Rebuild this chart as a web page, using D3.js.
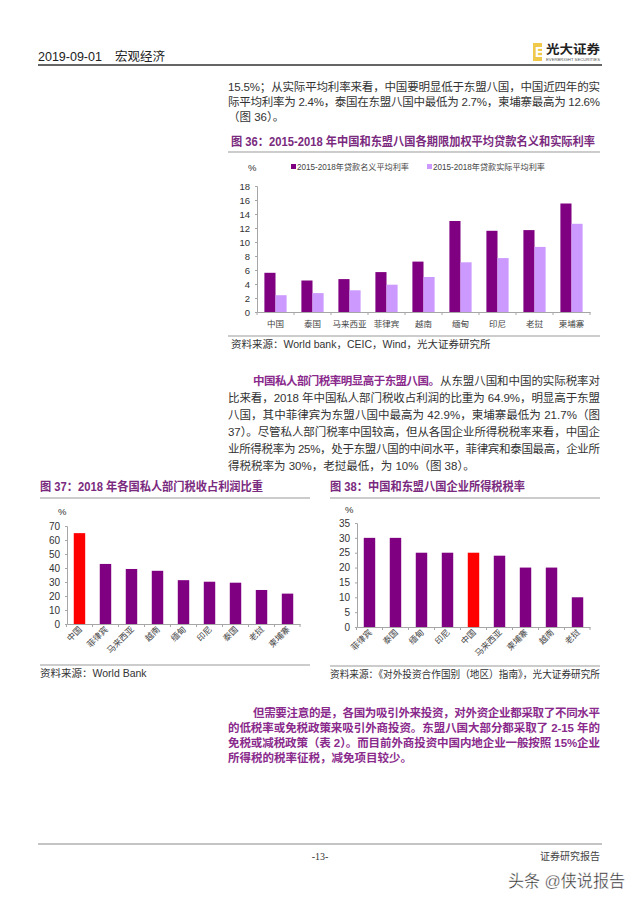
<!DOCTYPE html>
<html><head><meta charset="utf-8">
<script src="https://cdn.jsdelivr.net/npm/d3@7/dist/d3.min.js"></script>
<style>body{margin:0;background:#fff}svg{display:block}</style>
</head><body>
<svg id="page" width="640" height="905"></svg>
<script>
// ---------- DATA ----------
const cats36 = ["中国","泰国","马来西亚","菲律宾","越南","缅甸","印尼","老挝","柬埔寨"];
const nominal36 = [5.6, 4.5, 4.7, 5.7, 7.2, 13.0, 11.6, 11.7, 15.5];
const real36 = [2.4, 2.7, 3.1, 3.9, 5.0, 7.1, 7.7, 9.3, 12.6];
const series36 = ["2015-2018年贷款名义平均利率","2015-2018年贷款实际平均利率"];
const ticks36 = [0,2,4,6,8,10,12,14,16,18];

const cats37 = ["中国","菲律宾","马来西亚","越南","缅甸","印尼","泰国","老挝","柬埔寨"];
const vals37 = [64.9, 42.9, 39.3, 38.0, 31.3, 30.2, 29.5, 24.3, 21.7];
const ticks37 = [0,10,20,30,40,50,60,70];

const cats38 = ["菲律宾","泰国","缅甸","印尼","中国","马来西亚","柬埔寨","越南","老挝"];
const vals38 = [30, 30, 25, 25, 25, 24, 20, 20, 10];
const ticks38 = [0,5,10,15,20,25,30,35];

const highlight = "中国";

// ---------- STYLE ----------
const FONT = "'Liberation Sans','Noto Sans CJK SC',sans-serif";
const DARK = "#7f0080", LIGHT = "#cc99ff", RED = "#ff0000";
const TITLE_C = "#7a2a7e", PARA_B = "#8a2a8c", TEXT_C = "#333";
const AXIS_C = "#a6a6a6";

const svg = d3.select("#page");
svg.append("rect").attr("width",640).attr("height",905).attr("fill","#fff");

function txt(x, y, s, o = {}) {
  const t = svg.append("text").attr("x", x).attr("y", y).text(s)
    .attr("font-family", o.family || FONT)
    .attr("font-size", o.size || 12)
    .attr("fill", o.fill || TEXT_C)
    .attr("dominant-baseline", "central");
  if (o.weight) t.attr("font-weight", o.weight);
  if (o.anchor) t.attr("text-anchor", o.anchor);
  if (o.len) t.attr("textLength", o.len).attr("lengthAdjust", "spacingAndGlyphs");
  if (o.lenS) t.attr("textLength", o.lenS).attr("lengthAdjust", "spacing");
  return t;
}
function hline(x1, x2, y, c, w) {
  svg.append("line").attr("x1",x1).attr("x2",x2).attr("y1",y).attr("y2",y)
    .attr("stroke", c).attr("stroke-width", w);
}

// ---------- HEADER ----------
txt(38, 57, "2019-09-01", {size: 12.5, fill: "#222"});
txt(115, 57, "宏观经济", {size: 12.5, fill: "#222"});
hline(38, 602, 65, "#666", 2);
svg.append("rect").attr("x",533).attr("y",43).attr("width",9).attr("height",18).attr("fill","#f0c84a");
txt(535, 52, "E", {size: 14, fill: "#fff", weight: "bold"});
txt(546, 50, "光大证券", {size: 12.5, fill: "#222", weight: "bold", len: 54});
txt(546, 59.5, "EVERBRIGHT SECURITIES", {size: 3.5, fill: "#555", len: 54});

// ---------- PARAGRAPH 1 ----------
const PL = 228, PR = 600;
const p1y = [87, 102, 117];
txt(PL, p1y[0], "15.5%；从实际平均利率来看，中国要明显低于东盟八国，中国近四年的实", {size: 11.5, lenS: PR-PL});
txt(PL, p1y[1], "际平均利率为 2.4%，泰国在东盟八国中最低为 2.7%，柬埔寨最高为 12.6%", {size: 11.5, lenS: PR-PL});
txt(PL, p1y[2], "（图 36）。", {size: 11.5});

// ---------- CHART 36 ----------
txt(231, 142, "图 36：2015-2018 年中国和东盟八国各期限加权平均贷款名义和实际利率", {size: 12, weight: "bold", fill: TITLE_C, len: 364});
hline(228, 600, 152, "#999", 1);
{
  const x = d3.scaleBand().domain(cats36).range([257, 590]).paddingInner(0.4).paddingOuter(0.2);
  const xs = d3.scaleBand().domain([0,1]).range([0, x.bandwidth()]);
  const y = d3.scaleLinear().domain([0, 18]).range([312, 186]);
  const g = svg.append("g");
  g.selectAll(".n").data(nominal36).join("rect")
    .attr("x", (d,i) => x(cats36[i]) + xs(0)).attr("width", xs.bandwidth())
    .attr("y", d => y(d)).attr("height", d => y(0) - y(d)).attr("fill", DARK);
  g.selectAll(".r").data(real36).join("rect")
    .attr("x", (d,i) => x(cats36[i]) + xs(1)).attr("width", xs.bandwidth())
    .attr("y", d => y(d)).attr("height", d => y(0) - y(d)).attr("fill", LIGHT);
  const ya = svg.append("g").attr("transform", "translate(257,0)")
    .call(d3.axisLeft(y).tickValues(ticks36).tickSize(2).tickPadding(5));
  ya.select(".domain").attr("stroke", AXIS_C);
  ya.selectAll(".tick line").attr("stroke", AXIS_C);
  ya.selectAll("text").attr("font-family", FONT).attr("font-size", 9.5).attr("fill", TEXT_C);
  const xa = svg.append("g").attr("transform", "translate(0,312)")
    .call(d3.axisBottom(x).tickSize(0).tickPadding(9));
  xa.select(".domain").attr("stroke", AXIS_C);
  xa.selectAll("text").attr("font-family", FONT).attr("font-size", 8.5).attr("fill", "#444");
  cats36.forEach((c, i) => {
    const bx = x(c) - x.step() * x.paddingInner() / 2;
    svg.append("line").attr("x1", bx).attr("x2", bx).attr("y1", 312).attr("y2", 315).attr("stroke", AXIS_C);
  });
  svg.append("line").attr("x1", 590).attr("x2", 590).attr("y1", 312).attr("y2", 315).attr("stroke", AXIS_C);
  txt(248, 167, "%", {size: 9.5});
  const lx = [291, 427], lw = [112, 112];
  series36.forEach((s, i) => {
    svg.append("rect").attr("x", lx[i]).attr("y", 164).attr("width", 5).attr("height", 5).attr("fill", i ? LIGHT : DARK);
    txt(lx[i] + 6, 167, s, {size: 8.5, fill: "#444", len: lw[i]});
  });
}
hline(228, 600, 336, "#999", 1);
txt(231, 344, "资料来源：World bank，CEIC，Wind，光大证券研究所", {size: 10.5, fill: "#333"});

// ---------- PARAGRAPH 2 ----------
const p2y = [381, 398, 415, 432, 449, 466];
txt(253, p2y[0], "中国私人部门税率明显高于东盟八国。", {size: 11.5, weight: "bold", fill: PARA_B, lenS: 187});
txt(440, p2y[0], "从东盟八国和中国的实际税率对", {size: 11.5, lenS: PR-440});
txt(PL, p2y[1], "比来看，2018 年中国私人部门税收占利润的比重为 64.9%，明显高于东盟", {size: 11.5, lenS: PR-PL});
txt(PL, p2y[2], "八国，其中菲律宾为东盟八国中最高为 42.9%，柬埔寨最低为 21.7%（图", {size: 11.5, lenS: PR-PL});
txt(PL, p2y[3], "37）。尽管私人部门税率中国较高，但从各国企业所得税税率来看，中国企", {size: 11.5, lenS: PR-PL});
txt(PL, p2y[4], "业所得税率为 25%，处于东盟八国的中间水平，菲律宾和泰国最高，企业所", {size: 11.5, lenS: PR-PL});
txt(PL, p2y[5], "得税税率为 30%，老挝最低，为 10%（图 38）。", {size: 11.5});

// ---------- SINGLE-SERIES CHART HELPER ----------
function singleChart(cats, vals, ticks, maxV, x0, x1, y0, y1, labelSize) {
  const x = d3.scaleBand().domain(cats).range([x0, x1]).paddingInner(0.56).paddingOuter(0.26);
  const y = d3.scaleLinear().domain([0, maxV]).range([y0, y1]);
  svg.append("g").selectAll("rect").data(vals).join("rect")
    .attr("x", (d,i) => x(cats[i])).attr("width", x.bandwidth())
    .attr("y", d => y(d)).attr("height", d => y(0) - y(d))
    .attr("fill", (d,i) => cats[i] === highlight ? RED : DARK);
  const ya = svg.append("g").attr("transform", `translate(${x0},0)`)
    .call(d3.axisLeft(y).tickValues(ticks).tickSize(2).tickPadding(5));
  ya.select(".domain").attr("stroke", AXIS_C);
  ya.selectAll(".tick line").attr("stroke", AXIS_C);
  ya.selectAll("text").attr("font-family", FONT).attr("font-size", 10).attr("fill", TEXT_C);
  const xa = svg.append("g").attr("transform", `translate(0,${y0})`)
    .call(d3.axisBottom(x).tickSize(0).tickPadding(0));
  xa.select(".domain").attr("stroke", AXIS_C);
  xa.selectAll("text").attr("font-family", FONT).attr("font-size", labelSize).attr("fill", "#444")
    .attr("text-anchor", "end").attr("dy", 0)
    .attr("transform", "translate(3,6) rotate(-45)");
  cats.forEach(c => {
    const bx = x(c) - x.step() * x.paddingInner() / 2;
    svg.append("line").attr("x1", bx).attr("x2", bx).attr("y1", y0).attr("y2", y0 + 3).attr("stroke", AXIS_C);
  });
  svg.append("line").attr("x1", x1).attr("x2", x1).attr("y1", y0).attr("y2", y0 + 3).attr("stroke", AXIS_C);
}

// ---------- CHART 37 ----------
txt(40, 487, "图 37：2018 年各国私人部门税收占利润比重", {size: 12, weight: "bold", fill: TITLE_C, len: 223});
hline(40, 310, 498, "#999", 1);
txt(58, 511, "%", {size: 9.5});
singleChart(cats37, vals37, ticks37, 70, 67, 300, 624, 526, 8.5);
hline(40, 310, 665, "#999", 1);
txt(40, 673, "资料来源：World Bank", {size: 10.5, fill: "#333"});

// ---------- CHART 38 ----------
txt(330, 487, "图 38：中国和东盟八国企业所得税税率", {size: 12, weight: "bold", fill: TITLE_C, len: 195});
hline(330, 600, 498, "#999", 1);
txt(345, 509, "%", {size: 9.5});
singleChart(cats38, vals38, ticks38, 35, 357, 590, 627, 523, 8.5);
hline(330, 600, 666, "#999", 1);
txt(330, 674, "资料来源：《对外投资合作国别（地区）指南》，光大证券研究所", {size: 10.5, fill: "#333", len: 270});

// ---------- PARAGRAPH 3 ----------
const p3y = [713, 728, 743, 758];
const b3 = {size: 11.5, weight: "bold", fill: PARA_B};
txt(253, p3y[0], "但需要注意的是，各国为吸引外来投资，对外资企业都采取了不同水平", {...b3, lenS: PR-253});
txt(PL, p3y[1], "的低税率或免税政策来吸引外商投资。东盟八国大部分都采取了 2-15 年的", {...b3, lenS: PR-PL});
txt(PL, p3y[2], "免税或减税政策（表 2）。而目前外商投资中国内地企业一般按照 15%企业", {...b3, lenS: PR-PL});
txt(PL, p3y[3], "所得税的税率征税，减免项目较少。", b3);

// ---------- FOOTER ----------
hline(38, 602, 844, "#888", 1);
txt(320, 856, "-13-", {size: 10, anchor: "middle", fill: "#333", family: "'Liberation Serif','Noto Sans CJK SC',serif"});
txt(600, 856, "证券研究报告", {size: 10, anchor: "end", fill: "#444"});
txt(508, 881, "头条 @侠说报告", {size: 16.5, fill: "#222", len: 117}).attr("stroke", "#fff").attr("stroke-width", 0.4);
</script>
</body></html>
